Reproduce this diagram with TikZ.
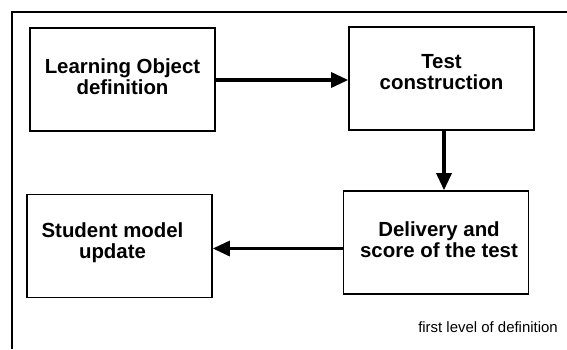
\documentclass[tikz,border=0pt]{standalone}
\usepackage{fontspec}
\setmainfont{Liberation Sans}
\usetikzlibrary{arrows.meta}
\tikzset{
  stage/.style={draw=black, line width=1.6bp, minimum width=185bp, minimum height=103bp, inner sep=0pt},
  stagetext/.style={font=\bfseries\fontsize{20.5}{21}\selectfont, align=center, inner sep=0pt},
  flow/.style={line width=3.2bp, -{Triangle[length=17bp,width=15bp]}},
}
\begin{document}
\begin{tikzpicture}[x=1bp, y=-1bp]
  \useasboundingbox (0,0) rectangle (567,349);
  % open frame round the diagram
  \draw[line width=1.4bp] (12,349) -- (12,12) -- (567,12);

  % process stages
  \node[stage] (lo)  at (122.5,79.5) {};
  \node[stage] (tc)  at (441.5,78.5) {};
  \node[stage] (sm)  at (119.5,246) {};
  \node[stage] (ds)  at (436,242.5) {};

  \node[stagetext] (lot) at ([yshift=3bp]lo.center) {Learning Object\\definition};
  \node[stagetext] (tct) at ([yshift=6bp]tc.center) {Test\\construction};
  \node[stagetext] (smt) at ([xshift=-7bp,yshift=3bp]sm.center) {Student model\\update};
  \node[stagetext] (dst) at ([xshift=3bp,yshift=3bp]ds.center) {Delivery and\\score of the test};

  % flow between stages
  \draw[flow] ([yshift=-0.5bp]lo.east) -- ([yshift=-0.5bp]lo.east -| tc.west);
  \draw[flow] ([xshift=2.5bp]tc.south) -- ([xshift=2.5bp]tc.south |- ds.north);
  \draw[flow] ([yshift=-6bp]ds.west) -- ([yshift=-6bp]ds.west -| sm.east);

  \node[anchor=base east, inner sep=0pt, font=\fontsize{15}{18}\selectfont] (lvl) at (558,332) {first level of definition};
\end{tikzpicture}
\end{document}
